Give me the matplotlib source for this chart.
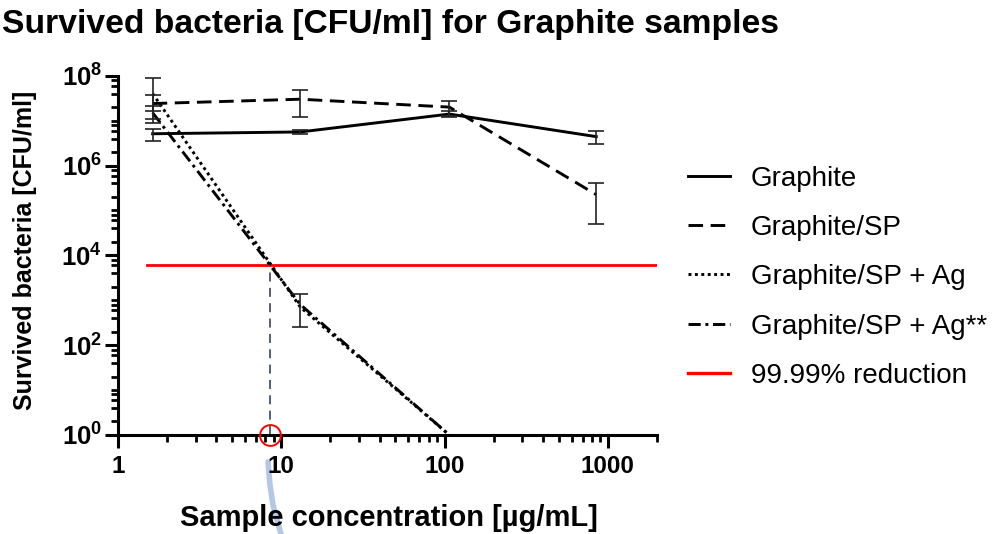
import matplotlib
matplotlib.use('Agg')
import matplotlib.pyplot as plt
from matplotlib.lines import Line2D
from matplotlib.ticker import FixedLocator, FixedFormatter, NullFormatter

plt.rcParams['font.family'] = ['Liberation Sans', 'DejaVu Sans']
plt.rcParams['mathtext.fontset'] = 'custom'
plt.rcParams['mathtext.bf'] = 'Liberation Sans:bold'
plt.rcParams['mathtext.rm'] = 'Liberation Sans'

# data (CFU/ml)
conc = [1.63, 13.1, 107, 850]
graphite = [5.1e6, 5.6e6, 1.4e7, 4.4e6]
graphite_sd = [1.5e6, 5e5, 2e6, 1.4e6]
sp = [2.4e7, 3.0e7, 2.0e7, 2.25e5]
sp_sd = [1.3e7, 1.8e7, 7e6, 1.75e5]
# the Ag samples drop to the axis floor at the third concentration
ag = [4.0e7, 7e2, 1]
ag_lo = [2.4e7, 4.5e2]
ag_hi = [4.9e7, 6.5e2]
ag2 = [1.5e7, 8e2, 1]
ag2_sd = [6e6]
limit = 6e3
limit_x = [1.5, 2000]
cross_x = 8.57

labels = ['Graphite', 'Graphite/SP', 'Graphite/SP + Ag', 'Graphite/SP + Ag**', '99.99% reduction']

fig = plt.figure(figsize=(9.99, 5.34), dpi=100)
ax = fig.add_axes([0.1181, 0.1854, 0.5395, 0.6728])

lw = 2.1
s_solid = '-'
s_dash = (0, (5.0, 2.6))
s_dot = (0, (1.0, 1.2))
s_dashdot = (0, (4.2, 1.6, 1.0, 1.6))

ax.plot(conc, graphite, color='k', lw=lw, ls=s_solid, zorder=3)
ax.plot(conc, sp, color='k', lw=lw, ls=s_dash, zorder=3)
ax.plot(conc[:3], ag, color='k', lw=lw, ls=s_dot, zorder=3, clip_on=False)
ax.plot(conc[:3], ag2, color='k', lw=lw, ls=s_dashdot, zorder=3, clip_on=False)

eb = dict(fmt='none', ecolor='#222222', elinewidth=1.2, capsize=6, capthick=1.2, zorder=4)
ax.errorbar(conc, graphite, yerr=graphite_sd, **eb)
ax.errorbar(conc, sp, yerr=sp_sd, **eb)
ax.errorbar(conc[:2], ag[:2], yerr=[ag_lo, ag_hi], **eb)
ax.errorbar(conc[:1], ag2[:1], yerr=ag2_sd, **eb)

ax.plot(limit_x, [limit, limit], color='red', lw=2.0, zorder=2)
ax.plot([cross_x, cross_x], [1, limit], color='#44546A', lw=1.3, ls=(0, (5, 3.5)), zorder=2)
ax.plot(cross_x, 1, 'o', ms=15, mfc='none', mec='red', mew=1.4, clip_on=False, zorder=6)

ax.set_xscale('log')
ax.set_yscale('log')
ax.set_xlim(1, 2000)
ax.set_ylim(1, 1e8)

ax.spines['top'].set_visible(False)
ax.spines['right'].set_visible(False)
for sp_name in ['left', 'bottom']:
    ax.spines[sp_name].set_linewidth(2.2)

xmaj = [1, 10, 100, 1000]
xmin = [m * 10 ** k for k in range(3) for m in range(2, 10)] + [2000]
ax.xaxis.set_major_locator(FixedLocator(xmaj))
ax.xaxis.set_major_formatter(FixedFormatter(['1', '10', '100', '1000']))
ax.xaxis.set_minor_locator(FixedLocator(xmin))
ax.xaxis.set_minor_formatter(NullFormatter())

ymaj = [1e0, 1e2, 1e4, 1e6, 1e8]
ymin = []
for k in range(8):
    ymin += [m * 10 ** k for m in (2, 4, 6, 8)]
    if k % 2 == 1:
        ymin.append(10 ** k)
ax.yaxis.set_major_locator(FixedLocator(ymaj))
ax.yaxis.set_major_formatter(FixedFormatter([r'$\mathbf{10^{%d}}$' % e for e in (0, 2, 4, 6, 8)]))
ax.yaxis.set_minor_locator(FixedLocator(ymin))
ax.yaxis.set_minor_formatter(NullFormatter())

ax.tick_params(which='major', length=9.5, width=2.2, labelsize=17.5, pad=5)
ax.tick_params(which='minor', length=5, width=2.0)
ax.tick_params(axis='y', which='major', pad=2, labelsize=18.5)
for t in ax.get_xticklabels():
    t.set_fontweight('bold')

fig.text(0.002, 1 - 33 / 534, 'Survived bacteria [CFU/ml] for Graphite samples',
         fontsize=24.2, fontweight='bold', va='baseline')
fig.text(389 / 999, 1 - 526 / 534, 'Sample concentration [µg/mL]',
         fontsize=21, fontweight='bold', ha='center', va='baseline')
fig.text(25.5 / 999, 1 - 250 / 534, 'Survived bacteria [CFU/ml]',
         fontsize=18, fontweight='bold', rotation=90, ha='center', va='center')

handles = [
    Line2D([], [], color='k', lw=lw, ls=s_solid),
    Line2D([], [], color='k', lw=lw, ls=s_dash),
    Line2D([], [], color='k', lw=lw, ls=s_dot),
    Line2D([], [], color='k', lw=lw, ls=s_dashdot),
    Line2D([], [], color='red', lw=2.4),
]
fig.legend(handles, labels, loc='upper left', bbox_to_anchor=(0.689, 0.69),
           frameon=False, fontsize=20, handlelength=1.5, handletextpad=0.75,
           labelspacing=0.84, borderpad=0, borderaxespad=0)

# hand-drawn blue stroke below the axis
px = [268, 270, 273, 277, 281]
py = [462, 485, 505, 520, 534]
fig.add_artist(Line2D([x / 999 for x in px], [1 - y / 534 for y in py],
                      transform=fig.transFigure, color='#b4c7e7', lw=4,
                      solid_capstyle='round', zorder=0))

fig.savefig('out.png', dpi=100)
